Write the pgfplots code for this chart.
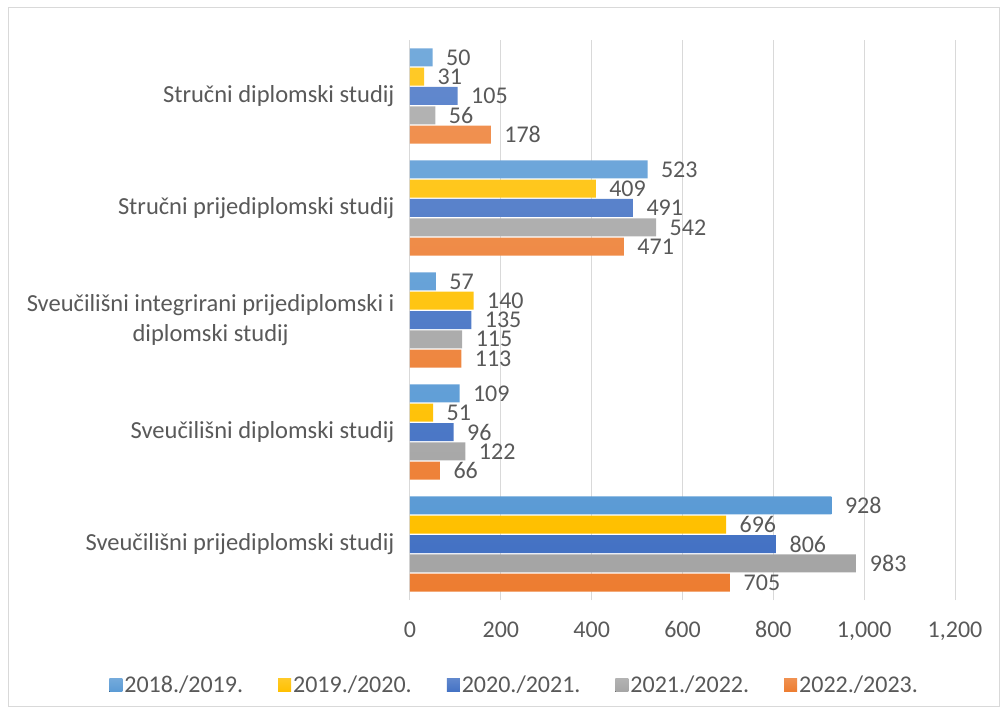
\documentclass[border=0pt]{standalone}
\usepackage{pgfplots}
\usepackage{pgfplotstable}
\pgfplotsset{compat=1.18}
\usepackage{fontspec}
\setmainfont{Carlito}

\definecolor{cA}{HTML}{5B9BD5}
\definecolor{cB}{HTML}{FFC000}
\definecolor{cC}{HTML}{4472C4}
\definecolor{cD}{HTML}{A5A5A5}
\definecolor{cE}{HTML}{ED7D31}
\definecolor{txt}{HTML}{595959}
\definecolor{gridc}{HTML}{D9D9D9}

% y: 0 = Sveucilisni prijediplomski (bottom) ... 4 = Strucni diplomski (top)
\pgfplotstableread{
y  a   b   c   d   e
0  928 696 806 983 705
1  109 51  96  122 66
2  57  140 135 115 113
3  523 409 491 542 471
4  50  31  105 56  178
}\studij

\begin{document}
\begin{tikzpicture}
\useasboundingbox (0,0) rectangle (1002pt,713pt);
\draw[gridc, line width=0.8pt] (8pt,7pt) rectangle (999pt,706pt);
\begin{axis}[
    at={(410pt,113pt)}, anchor=south west,
    scale only axis,
    width=545pt, height=560pt,
    xbar, bar width=18pt,
    xmin=0, xmax=1200,
    ymin=-0.5, ymax=4.5,
    xtick={0,200,...,1200},
    ytick={0,1,2,3,4},
    yticklabels={Sveučilišni prijediplomski studij, Sveučilišni diplomski studij,
      {Sveučilišni integrirani prijediplomski i\\diplomski studij},
      Stručni prijediplomski studij, Stručni diplomski studij},
    axis lines=left,
    axis line style={-},
    x axis line style={draw=none},
    y axis line style={draw=gridc, line width=1pt},
    major tick length=0pt,
    xmajorgrids,
    grid style={gridc, line width=1pt},
    /pgf/number format/1000 sep={,},
    /pgf/number format/assume math mode=true,
    ticklabel style={text=txt},
    xticklabel style={font=\fontsize{24}{29}\selectfont, yshift=-18pt},
    yticklabel style={font=\fontsize{24.5}{30}\selectfont, align=center, xshift=-12pt},
    nodes near coords,
    nodes near coords style={font=\fontsize{24}{28}\selectfont, text=txt, anchor=west, xshift=10pt},
    legend columns=5,
    legend style={at={(axis description cs:0.192,-0.152)}, anchor=center, draw=none,
      font=\fontsize{24}{29}\selectfont, text=txt, inner sep=0pt,
      /tikz/every even column/.append style={column sep=33pt}},
    legend image code/.code={\fill[#1, draw=none] (0pt,-6.5pt) rectangle (13pt,6.5pt);},
  ]
  \addplot[draw=none, top color=cA!85!white, bottom color=cA, bar shift=38.6pt] table[x=a, y=y] {\studij};
  \addlegendentry{2018./2019.}
  \addplot[draw=none, top color=cB!85!white, bottom color=cB, bar shift=19.3pt] table[x=b, y=y] {\studij};
  \addlegendentry{2019./2020.}
  \addplot[draw=none, top color=cC!85!white, bottom color=cC, bar shift=0pt] table[x=c, y=y] {\studij};
  \addlegendentry{2020./2021.}
  \addplot[draw=none, top color=cD!85!white, bottom color=cD, bar shift=-19.3pt] table[x=d, y=y] {\studij};
  \addlegendentry{2021./2022.}
  \addplot[draw=none, top color=cE!85!white, bottom color=cE, bar shift=-38.6pt] table[x=e, y=y] {\studij};
  \addlegendentry{2022./2023.}
\end{axis}
\end{tikzpicture}
\end{document}
